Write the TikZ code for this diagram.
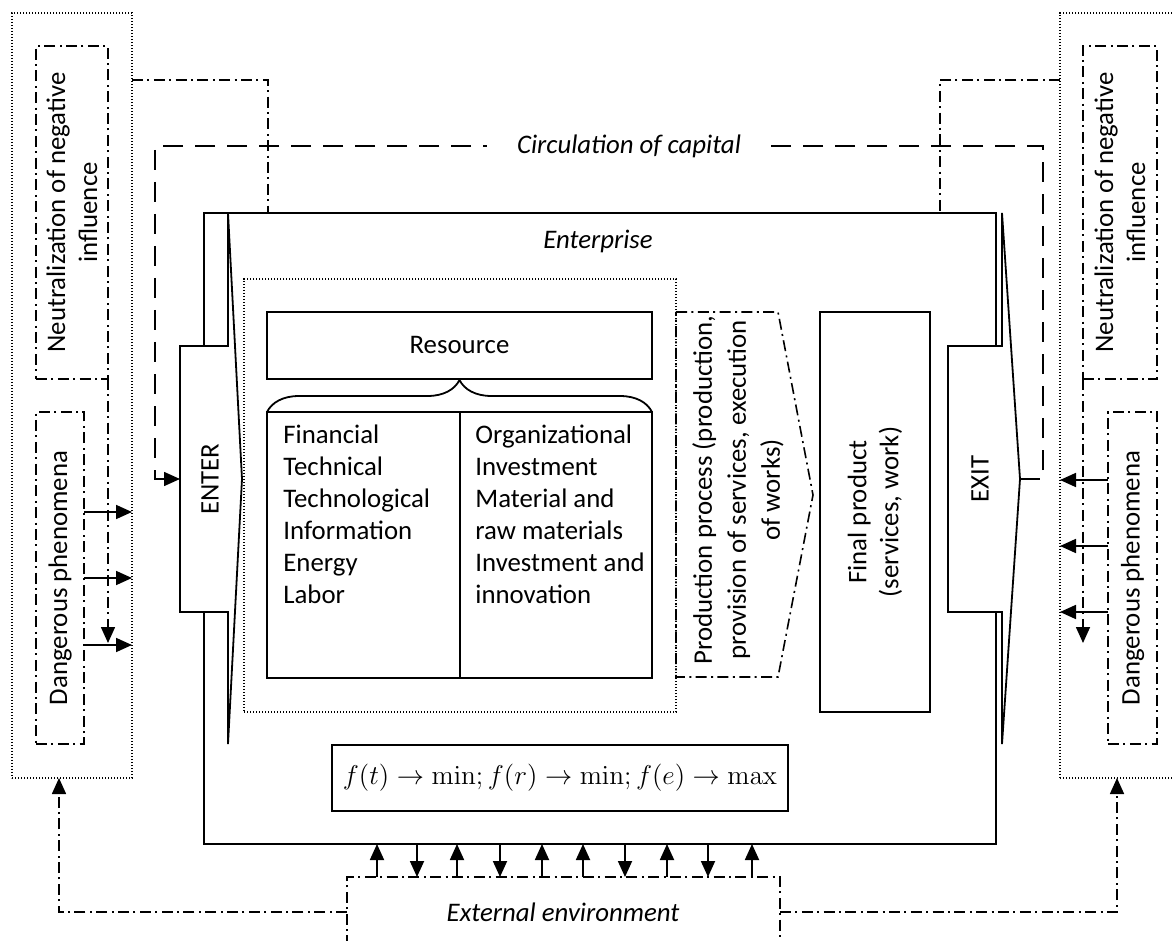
\documentclass[tikz,border=0pt]{standalone}
\usepackage{fix-cm}
\usepackage[no-math]{fontspec}
\setmainfont{Carlito}
\usetikzlibrary{arrows.meta,fit,decorations.pathreplacing,calc}
\begin{document}
\begin{tikzpicture}[x=0.5pt,y=-0.5pt,
  font=\fontsize{13.4}{16}\selectfont,
  solidline/.style={line width=0.9pt},
  dd/.style={line width=0.8pt, dash pattern=on 5.5pt off 2.2pt on 1pt off 2.2pt},
  dotbox/.style={line width=0.7pt, dash pattern=on 0.7pt off 0.8pt},
  circline/.style={line width=0.8pt, dash pattern=on 10pt off 6pt},
  boxfit/.style={inner sep=0pt, outer sep=0pt},
  arr/.style={-{Triangle[length=8pt,width=7pt]}},
  itx/.style={font=\fontsize{13.4}{16}\selectfont\itshape},
]
\useasboundingbox (0,0) rectangle (1173,941);
\clip (0,0) rectangle (1173,941);

% outer dotted boxes
\node[boxfit, draw, dotbox, fit={(12,13) (132,778)}] (lo) {};
\node[boxfit, draw, dotbox, fit={(1060,13) (1185,778)}] (ro) {};
% neutralization boxes
\node[boxfit, draw, dd, fit={(36,46) (108,379)}] (ln) {};
\node[boxfit, draw, dd, fit={(1083,46) (1157,379)}] (rn) {};
\node[rotate=90, align=center] (lntext) at (ln.center) {Neutralization of negative\\influence};
\node[rotate=90, align=center] (rntext) at (rn.center) {Neutralization of negative\\influence};
% dangerous boxes
\node[boxfit, draw, dd, fit={(36,412) (84,744)}] (ld) {};
\node[boxfit, draw, dd, fit={(1108,412) (1157,744)}] (rd) {};
\node[rotate=90] (ldtext) at (ld.center) {Dangerous phenomena};
\node[rotate=90] (rdtext) at (rd.center) {Dangerous phenomena};

% enterprise
\node[boxfit, draw, solidline, fit={(204,213) (996,844)}] (ent) {};
\node[itx] (enttext) at (598,241) {Enterprise};

% ENTER shape
\draw[solidline, fill=white] (228,213) -- (242,479) -- (228,744) -- (228,612) -- (180,612) -- (180,346) -- (228,346) -- cycle;
\node[boxfit, fit={(180,346) (228,612)}] (enterbox) {};
\node[rotate=90] (entertext) at (210,479) {ENTER};

% EXIT shape
\draw[solidline, fill=white] (1002,213) -- (1020,479) -- (1002,744) -- (1002,612) -- (948,612) -- (948,346) -- (1002,346) -- cycle;
\coordinate (exittip) at (1020,479);
\node[rotate=90] (exittext) at (980,479) {EXIT};

% inner dotted box
\node[boxfit, draw, dotbox, fit={(244,279) (676,712)}] (inner) {};
% resource
\node[boxfit, draw, solidline, fit={(267,312) (652,379)}] (res) {};
\node (restext) at (res.center) {Resource};
\node[boxfit, draw, solidline, fit={(267,412) (652,678)}] (tab) {};
\draw[solidline] (tab.north -| 460,0) -- (tab.south -| 460,0);
\draw[solidline, decorate, decoration={brace, amplitude=16pt}] (tab.north west) -- (tab.north east);
\node[anchor=north west, align=left, inner sep=0pt] (col1) at (283,424) {Financial\\Technical\\Technological\\Information\\Energy\\Labor};
\node[anchor=north west, align=left, inner sep=0pt] (col2) at (475,424) {Organizational\\Investment\\Material and\\raw materials\\Investment and\\innovation};

% production process
\draw[dd] (676,312) -- (778,312) -- (813,495) -- (778,677) -- (676,677) -- cycle;
\node[boxfit, fit={(676,312) (813,677)}] (prod) {};
\node[rotate=90, align=center, font=\fontsize{13.4}{17}\selectfont] (prodtext) at (738,490) {Production process (production,\\provision of services, execution\\of works)};

% final product
\node[boxfit, draw, solidline, fit={(820,312) (930,712)}] (final) {};
\node[rotate=90, align=center] (finaltext) at (875,512) {Final product\\(services, work)};

% formula
\node[boxfit, draw, solidline, fit={(332,745) (788,811)}] (fbox) {};
\node[font=\fontsize{13.6}{16}\selectfont] (ftext) at (fbox.center) {$f(t)\rightarrow\min; f(r)\rightarrow\min; f(e)\rightarrow\max$};

% external environment
\node[boxfit, fit={(347,877) (780,990)}] (ext) {};
\draw[dd] (ext.south west) -- (ext.north west) -- (ext.north east) -- (ext.south east);
\node[itx] (exttext) at (563,912) {External environment};

% circulation of capital
\draw[circline, arr] (exittip) -- (1043,479) |- (155,146) |- (enterbox.west);
\node[itx, fill=white, inner xsep=15pt] (circtext) at (629,146) {Circulation of capital};

% neutralization connectors
\draw[dd] (lo.north east |- 0,80) -| (ent.north -| 268,0);
\draw[dd] (ro.north west |- 0,80) -| (ent.north -| 940,0);
\draw[dd, arr] (ln.south east) -- (ln.south east |- 0,643);
\draw[dd, arr] (rn.south west) -- (rn.south west |- 0,643);

% dangerous arrows
\foreach \y in {512,578,645} \draw[solidline, arr] (ld.east |- 0,\y) -- (lo.east |- 0,\y);
\foreach \y in {480,546,612} \draw[solidline, arr] (rd.west |- 0,\y) -- (ro.west |- 0,\y);

% bottom connectors
\draw[dd, arr] (ext.west |- 0,912) -| (lo.south -| 59,0);
\draw[dd, arr] (ext.east |- 0,912) -| (ro.south -| 1117,0);

\foreach \x in {377,457,542,583,667,752} \draw[solidline, arr] (ext.north -| \x,0) -- (ent.south -| \x,0);
\foreach \x in {417,500,625,708} \draw[solidline, arr] (ent.south -| \x,0) -- (ext.north -| \x,0);
\end{tikzpicture}
\end{document}
